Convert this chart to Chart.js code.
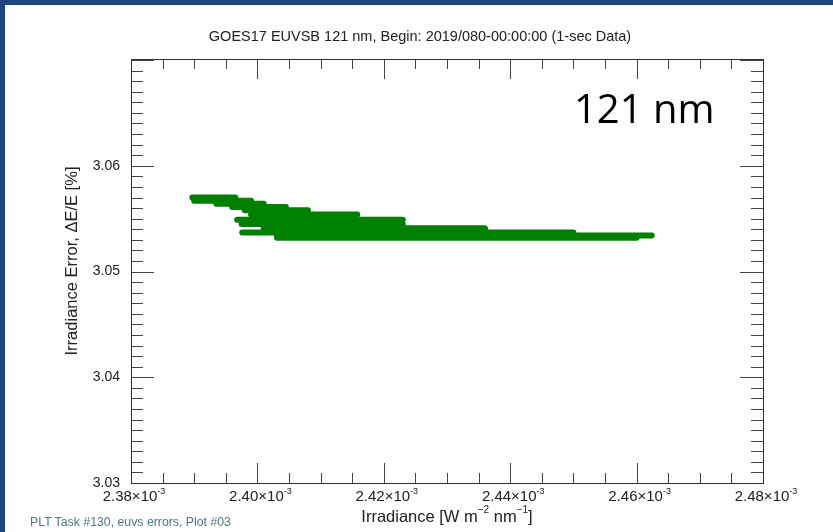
<!DOCTYPE html>
<html>
<head>
<meta charset="utf-8">
<script src="https://cdn.jsdelivr.net/npm/chart.js@4.4.1/dist/chart.umd.min.js"></script>
<style>
  html, body { margin: 0; padding: 0; background: #fdfdfd; }
  #wrap { position: relative; width: 833px; height: 532px; overflow: hidden; }
  #frameTop { position: absolute; left: 0; top: 0; width: 833px; height: 5px; background: #1d4579; }
  #frameLeft { position: absolute; left: 0; top: 0; width: 5px; height: 532px; background: #1d4579; }
  #footer { position: absolute; left: 30px; top: 515px; font: 12.3px "Liberation Sans", Arial, sans-serif; color: #4f7880; }
</style>
</head>
<body>
<div id="wrap">
  <canvas id="euvsChart" width="833" height="532"></canvas>
  <div id="frameTop"></div>
  <div id="frameLeft"></div>
  <div id="footer">PLT Task #130, euvs errors, Plot #03</div>
</div>
<script>
// Irradiance (x 1e-3 W m-2 nm-1) / error (%) streaks
const streakStart = [2.3897, 2.3900, 2.3935, 2.3960, 2.3980, 2.3990, 2.3968, 2.3975, 2.4010, 2.4040, 2.3976, 2.4031, 2.4031];
const streakEnd   = [2.3965, 2.3990, 2.4010, 2.4045, 2.4080, 2.4158, 2.4230, 2.4230, 2.4360, 2.4360, 2.4500, 2.4624, 2.4600];
const streakLevel = [3.0570, 3.0567, 3.0564, 3.0561, 3.0558, 3.0554, 3.0549, 3.0545, 3.0541, 3.0539, 3.0537, 3.0534, 3.0532];

const xTickValues = [2.38, 2.40, 2.42, 2.44, 2.46, 2.48];
const yTickValues = [3.03, 3.04, 3.05, 3.06];
const xRange = [2.38, 2.48];
const yRange = [3.03, 3.0701];

const chartTitle = 'GOES17 EUVSB 121 nm, Begin: 2019/080-00:00:00 (1-sec Data)';
const yTitle = 'Irradiance Error, ΔE/E [%]';
const bandLabel = '121 nm';

const green = 'rgb(0,128,0)';
const axisFont = '"Liberation Sans", Arial, sans-serif';

const datasets = streakStart.map((x0, i) => ({
    data: [{ x: x0, y: streakLevel[i] }, { x: streakEnd[i], y: streakLevel[i] }],
    borderColor: green,
    borderWidth: 6,
    borderCapStyle: 'round',
    pointRadius: 0,
    showLine: true
}));

// texte avec exposants: parts = [[texte, estExposant], ...]
function drawSupText(ctx, parts, cx, cy, size) {
    const supSize = Math.round(size * 0.62);
    let total = 0;
    parts.forEach(p => {
        ctx.font = (p[1] ? supSize : size) + 'px ' + axisFont;
        total += ctx.measureText(p[0]).width;
    });
    let x = cx - total / 2;
    ctx.textAlign = 'left';
    ctx.textBaseline = 'middle';
    parts.forEach(p => {
        ctx.font = (p[1] ? supSize : size) + 'px ' + axisFont;
        ctx.fillText(p[0], x, p[1] ? cy - size * 0.38 : cy);
        x += ctx.measureText(p[0]).width;
    });
}

// IDL style ticks: drawn inward on all four sides, with minor ticks
const idlAxes = {
    id: 'idlAxes',
    afterDatasetsDraw(chart) {
        const { ctx, chartArea: a, scales: { x, y } } = chart;
        ctx.save();
        ctx.strokeStyle = '#444';
        ctx.lineWidth = 1;
        ctx.beginPath();
        for (let i = 0; i <= 20; i++) {
            const px = Math.round(x.getPixelForValue(xRange[0] + i * 0.005)) + 0.5;
            const len = i % 4 === 0 ? 20 : 10;
            ctx.moveTo(px, a.bottom); ctx.lineTo(px, a.bottom - len);
            ctx.moveTo(px, a.top); ctx.lineTo(px, a.top + len);
        }
        for (let i = 0; i <= 40; i++) {
            const py = Math.round(y.getPixelForValue(yRange[0] + i * 0.001)) + 0.5;
            const len = i % 10 === 0 ? 23 : 12;
            ctx.moveTo(a.left, py); ctx.lineTo(a.left + len, py);
            ctx.moveTo(a.right, py); ctx.lineTo(a.right - len, py);
        }
        ctx.stroke();
        ctx.strokeStyle = '#333';
        ctx.strokeRect(Math.round(a.left) + 0.5, Math.round(a.top) + 0.5,
            Math.round(a.right - a.left), Math.round(a.bottom - a.top));

        ctx.fillStyle = '#222';
        // x tick labels with exponent
        xTickValues.forEach(v => {
            drawSupText(ctx, [[v.toFixed(2) + '×10', false], ['-3', true]],
                x.getPixelForValue(v) + 3, a.bottom + 14, 15);
        });
        // x axis title
        drawSupText(ctx, [['Irradiance [W m', false], ['−2', true], [' nm', false], ['−1', true], [']', false]],
            (a.left + a.right) / 2, a.bottom + 34, 16.5);

        // y axis title
        ctx.save();
        ctx.translate(72, (a.top + a.bottom) / 2 - 10);
        ctx.rotate(-Math.PI / 2);
        ctx.font = '16.5px ' + axisFont;
        ctx.textAlign = 'center';
        ctx.textBaseline = 'middle';
        ctx.fillText(yTitle, 0, 0);
        ctx.restore();

        // title
        ctx.font = '14.5px ' + axisFont;
        ctx.textAlign = 'center';
        ctx.textBaseline = 'middle';
        ctx.fillText(chartTitle, 420, a.top - 22);

        // big wavelength label inside the plot
        ctx.fillStyle = '#000';
        ctx.font = '40px "Open Sans", sans-serif';
        ctx.fillText(bandLabel, a.left + (a.right - a.left) * 0.812, a.top + 53);
        ctx.restore();
    }
};

new Chart(document.getElementById('euvsChart'), {
    type: 'scatter',
    data: { datasets: datasets },
    plugins: [idlAxes],
    options: {
        responsive: false,
        animation: false,
        layout: { padding: { left: 0, right: 70, top: 59, bottom: 0 } },
        plugins: {
            legend: { display: false },
            tooltip: { enabled: false },
            title: { display: false }
        },
        scales: {
            x: {
                type: 'linear',
                min: xRange[0],
                max: xRange[1],
                afterBuildTicks: s => { s.ticks = xTickValues.map(v => ({ value: v })); },
                afterFit: s => { s.height = 49; },
                grid: { display: false, drawTicks: false },
                border: { display: false },
                ticks: { display: false }
            },
            y: {
                type: 'linear',
                min: yRange[0],
                max: yRange[1],
                afterBuildTicks: s => { s.ticks = yTickValues.map(v => ({ value: v })); },
                afterFit: s => { s.width = 131; },
                grid: { display: false, drawTicks: false },
                border: { display: false },
                ticks: {
                    color: '#222',
                    padding: 11,
                    font: { family: axisFont, size: 14 },
                    callback: v => v.toFixed(2)
                }
            }
        }
    }
});
</script>
</body>
</html>
